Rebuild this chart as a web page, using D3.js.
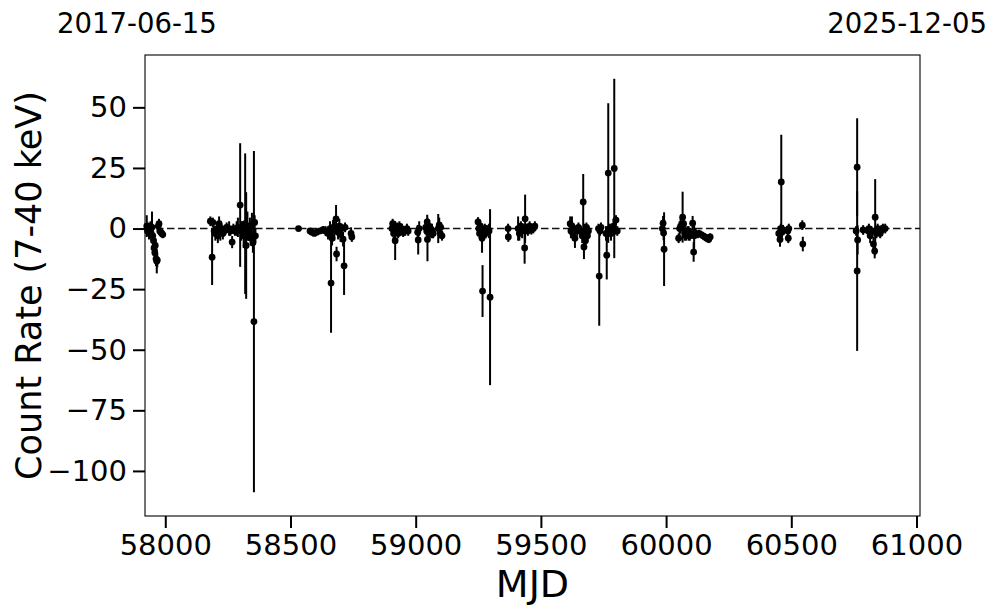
<!DOCTYPE html>
<html lang="en">
<head>
<meta charset="UTF-8">
<title>Count rate vs MJD</title>
<style>
  body { margin: 0; background: #fff; }
  svg text { font-family: "DejaVu Sans", sans-serif; fill: #000; }
</style>
</head>
<body>
<div id="chart"></div>
<script src="https://d3js.org/d3.v7.min.js"></script>
<script>
const mjd = [
  57926, 57929, 57932, 57935, 57938, 57941, 57944, 57947, 57950, 57953, 57955, 57958, 57960, 57963, 57966, 57968, 57972, 57975, 57978, 57982, 57986, 57990,
  58180, 58187, 58190, 58195, 58200, 58205, 58210, 58215, 58220, 58225, 58230, 58235, 58240, 58245, 58255, 58260, 58267, 58272, 58278, 58285, 58290, 58299, 58303, 58308, 58313, 58319, 58323, 58328, 58333, 58338, 58342, 58346, 58350, 58354, 58357, 58360,
  58532, 58578, 58585, 58595, 58605, 58618, 58630, 58640, 58650, 58658, 58662, 58666, 58670, 58675, 58682, 58684, 58690, 58695, 58700, 58705, 58710, 58714, 58718, 58742, 58745,
  58905, 58908, 58912, 58916, 58918, 58922, 58926, 58930, 58935, 58940, 58945, 58950, 58958, 58965, 58970, 59008, 59010, 59014, 59040, 59044, 59046, 59047, 59052, 59056, 59060, 59065, 59070, 59090, 59094, 59098, 59100, 59105,
  59249, 59252, 59255, 59258, 59262, 59265, 59267, 59272, 59276, 59280, 59284, 59293, 59297,
  59369, 59370, 59409, 59414, 59420, 59425, 59430, 59435, 59437, 59442, 59448, 59455, 59462, 59470, 59476,
  59617, 59620, 59624, 59628, 59632, 59636, 59645, 59650, 59660, 59665, 59669, 59672, 59674, 59678, 59682, 59686, 59690, 59730, 59733, 59736, 59740, 59760, 59763, 59767, 59769, 59775, 59780, 59785, 59790, 59793, 59797, 59800, 59805,
  59985, 59988, 59990, 59992, 60050, 60054, 60058, 60066, 60070, 60075, 60080, 60085, 60090, 60095, 60100, 60106, 60110, 60112, 60118, 60125, 60132, 60140, 60148, 60155, 60162, 60170, 60176,
  60450, 60455, 60458, 60460, 60463, 60467, 60486, 60488, 60490, 60544, 60546,
  60759, 60763, 60763, 60765, 60787, 60807, 60810, 60815, 60820, 60828, 60833, 60835, 60840, 60845, 60850, 60855, 60860, 60866, 60875
];
const rate = [
  1, -1, 0.5, -1.5, 0, 1, -2, 0.5, -3, -5, -8, -10, -7, -12.5, -13.5, -13, 1, 2, -1, -1.5, -2, -2.5,
  3, -11.8, 2.5, -1, -2, -0.5, -3, 2, -1, 0, -2, -1, -0.5, 0.5, 0, -1, -5.6, 0, -1, 0, 0.5, 9.7, -1, 0, -3, 2, -7, 1, -2, 0.5, -4, 1.5, -6, -38.4, 2.5, -3,
  0, -1, -1.5, -2, -1.5, -1, -0.5, -1, -2, 0, -22.5, -4, 0.5, -1, 4, -10.5, -1.5, 1, -2.5, 0, -4.4, -15.4, 0.5, -2, -3.5,
  0, 2, -2, 1, -5, -1, 0.5, -2, 1, -1, 0, -1.5, -1, 0, -1, -1.5, -4.7, 0, 0.5, -1, 2.7, -4.5, 1, -2, 0, -1, -2, 0, 1.5, -2, 0.5, -3,
  2.7, 0, -2, 1, -1, -4, -25.8, -1, 0, -2, -0.5, -1, -28.3,
  0, -3.5, 0, -2, 1, -1, 0, -8, 4, 0, -1, 1, -0.5, 0, 1,
  2, -1, 1, -2, 0, -4, -1, 0.5, -1, -3, 11, -7.6, -1, -5, 0.5, -3, -1, 0, -19.6, -1, 0.5, -2, -11, -2, 22.9, 0, -2, -1, 1, 24.8, -0.5, 3.5, -1,
  0, 2.2, -1.8, -8.5, -4, 0, 1, 4.7, 2, -2, -3, -1, -2, -3, -2, 2.2, -9.7, -3, -2, -2.5, -2, -2.5, -3, -3.5, -4, -4.5, -3.5,
  -2, -4.5, 0, 19.2, -1.5, -0.5, -1, -4, 0, 1.4, -6.4,
  -1, 25.3, -17.5, -4.7, -0.6, -1, 0, -3, -1, -6.4, -9.3, 4.7, -2, 0, -1, -2, -0.5, 0, 0
];
const rateErr = [
  4.5, 2, 2, 3, 2, 2, 3, 6.5, 3, 3, 3, 3, 3, 3, 5, 3, 2, 2, 1.5, 1.5, 1.5, 1.5,
  2, 11.5, 2, 2, 3, 2, 3, 3, 4, 2, 2.5, 2, 2, 2, 3, 2, 2.5, 2, 2, 3, 4, 25.5, 4, 3, 5, 29, 22, 6, 3, 4, 3, 5, 4, 70.4, 3, 3,
  1, 1, 1, 1, 1, 1, 1.5, 2, 2.5, 3, 20.5, 3, 3, 4, 5.7, 3, 3, 3, 3, 2, 3, 12, 2, 2.5, 2,
  2, 2, 3, 2, 8, 2, 2, 2, 2, 2, 2, 2, 2, 2, 2, 3, 6, 3, 3, 2, 3, 9, 2, 2, 2, 3, 2, 6, 3, 2, 2, 2,
  2, 3, 2, 2, 3, 6, 10.7, 2, 2, 2, 2, 3, 36.3,
  2, 2, 5, 3, 2, 3, 2, 6.5, 10, 2, 2, 2, 2, 2, 2,
  3, 3, 4, 3, 2, 4, 2, 2, 2, 3, 11.5, 5, 3, 3, 2, 2, 2, 2, 20.5, 2, 2, 3, 10, 3, 28.8, 2, 3, 2, 3, 37, 2, 2, 2,
  2, 3, 3, 15.2, 2, 3, 3, 10.5, 3, 3, 2, 2, 3, 2, 2, 3, 4, 6, 2, 1.5, 1.5, 1.5, 1.5, 1.5, 1.5, 1.5, 1.5,
  3, 3, 2, 19.5, 2, 2, 2, 2, 2, 2, 3,
  2, 20.2, 33, 6, 2, 2, 2, 3, 2, 3, 3, 15.7, 2, 2, 2, 2, 2, 2, 2
];
const xTicks = [58000, 58500, 59000, 59500, 60000, 60500, 61000];
const yTicks = [-100, -75, -50, -25, 0, 25, 50];
const startDate = "2017-06-15";
const endDate = "2025-12-05";

const W = 997, H = 613;
const margin = {top: 55, right: 77, bottom: 97, left: 145};
const width = W - margin.left - margin.right;
const height = H - margin.top - margin.bottom;

const svg = d3.select("#chart").append("svg").attr("width", W).attr("height", H);
const g = svg.append("g").attr("transform", "translate(" + margin.left + "," + margin.top + ")");

const x = d3.scaleLinear().domain([57919, 61014]).range([0, width]);
const y = d3.scaleLinear().domain([-118.6, 71.6]).range([height, 0]);

const data = mjd.map((m, i) => ({mjd: m, rate: rate[i], err: rateErr[i]}));

// zero line
g.append("line")
  .attr("x1", 0).attr("x2", width)
  .attr("y1", y(0)).attr("y2", y(0))
  .attr("stroke", "#111").attr("stroke-width", 1.6)
  .attr("stroke-dasharray", "7.5,3.5");

// error bars
g.selectAll(".err").data(data).enter().append("line")
  .attr("class", "err")
  .attr("x1", d => x(d.mjd)).attr("x2", d => x(d.mjd))
  .attr("y1", d => y(d.rate - d.err)).attr("y2", d => y(d.rate + d.err))
  .attr("stroke", "#000").attr("stroke-width", 2);

g.selectAll(".pt").data(data).enter().append("circle")
  .attr("class", "pt")
  .attr("cx", d => x(d.mjd)).attr("cy", d => y(d.rate))
  .attr("r", 3.4).attr("fill", "#000");

// axes
const xAxis = g.append("g")
  .attr("transform", "translate(0," + height + ")")
  .call(d3.axisBottom(x).tickValues(xTicks).tickFormat(d3.format("d")).tickSize(12).tickPadding(6));
const yAxis = g.append("g")
  .call(d3.axisLeft(y).tickValues(yTicks).tickSize(12).tickPadding(6));
[xAxis, yAxis].forEach(a => {
  a.select(".domain").remove();
  a.selectAll(".tick line").attr("stroke", "#000").attr("stroke-width", 2);
  a.selectAll(".tick text").attr("font-size", "29px").attr("font-family", "DejaVu Sans");
});

g.append("rect")
  .attr("width", width).attr("height", height)
  .attr("fill", "none").attr("stroke", "#000").attr("stroke-width", 1.1);

svg.append("text")
  .attr("x", margin.left + width / 2).attr("y", 597)
  .attr("text-anchor", "middle").attr("font-size", "38px")
  .text("MJD");

svg.append("text")
  .attr("transform", "translate(29," + (margin.top + height / 2) + ") rotate(-90)")
  .attr("text-anchor", "middle").attr("dominant-baseline", "central")
  .attr("font-size", "35px")
  .text("Count Rate (7-40 keV)");

svg.append("text").attr("x", 57).attr("y", 33).attr("font-size", "27.5px").text(startDate);
svg.append("text").attr("x", 987).attr("y", 33).attr("text-anchor", "end").attr("font-size", "27.5px").text(endDate);
</script>
</body>
</html>
